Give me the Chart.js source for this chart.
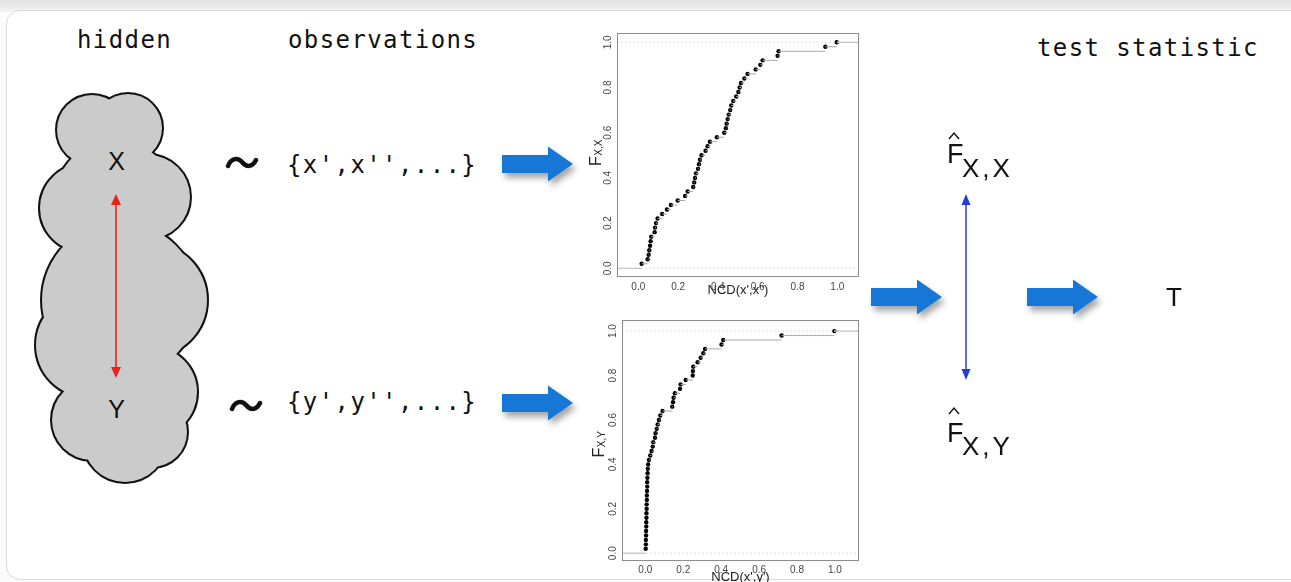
<!DOCTYPE html>
<html>
<head>
<meta charset="utf-8">
<script src="https://cdn.jsdelivr.net/npm/chart.js@4.4.1/dist/chart.umd.min.js"></script>
<style>
  html, body { margin: 0; padding: 0; }
  body { width: 1291px; height: 582px; overflow: hidden; background: #fbfbfb; position: relative; font-family: 'Liberation Sans', Arial, sans-serif; }
  #band { position: absolute; left: 0; top: 0; width: 1291px; height: 12px; background: linear-gradient(#e2e2e2, #f3f3f3); }
  #panel { position: absolute; left: 6px; top: 10px; width: 1310px; height: 568px; background: #fff; border: 1.5px solid #dadada; border-radius: 14px; }
  svg#dia { position: absolute; left: 0; top: 0; }
  canvas { position: absolute; }
  #c1 { left: 580px; top: 28px; }
  #c2 { left: 585px; top: 315px; }
  .mono { font-family: 'DejaVu Sans Mono', monospace; font-size: 24px; letter-spacing: 1.4px; fill: #111; }
  .sans { font-family: 'Liberation Sans', Arial, sans-serif; fill: #111; }
</style>
</head>
<body>
<div id="band"></div>
<div id="panel"></div>
<svg id="dia" width="1291" height="582" viewBox="0 0 1291 582">
  <defs>
    <filter id="sh" x="-30%" y="-40%" width="170%" height="200%">
      <feDropShadow dx="3" dy="5" stdDeviation="3" flood-color="#000" flood-opacity="0.35"/>
    </filter>
    <g id="cloudShape">
      <circle cx="92" cy="130" r="35"/>
      <circle cx="128" cy="128" r="34"/>
      <circle cx="148" cy="197" r="42"/>
      <circle cx="84" cy="208" r="44"/>
      <circle cx="150" cy="300" r="57"/>
      <circle cx="88" cy="345" r="52"/>
      <circle cx="152" cy="392" r="45"/>
      <circle cx="92" cy="420" r="40"/>
      <circle cx="125" cy="440" r="42"/>
      <circle cx="152" cy="432" r="35"/>
      <circle cx="120" cy="300" r="78"/>
      <circle cx="115" cy="200" r="60"/>
    </g>
    <g id="blueArrow">
      <polygon points="0,-9 46,-9 46,-17.5 71,0 46,17.5 46,9 0,9"/>
    </g>
  </defs>

  <!-- cloud -->
  <use href="#cloudShape" fill="#cbcbcb" stroke="#111" stroke-width="4"/>
  <use href="#cloudShape" fill="#cbcbcb"/>
  <text class="sans" x="116.5" y="170" font-size="25" text-anchor="middle">X</text>
  <text class="sans" x="116.5" y="418" font-size="25" text-anchor="middle">Y</text>
  <line x1="116" y1="203" x2="116" y2="369" stroke="#e8231a" stroke-width="1.6"/>
  <polygon points="116,194 111,205 121,205" fill="#e8231a"/>
  <polygon points="116,378 111,367 121,367" fill="#e8231a"/>

  <!-- headers -->
  <text class="mono" x="77" y="48">hidden</text>
  <text class="mono" x="288" y="48">observations</text>
  <text class="mono" x="1037" y="56">test statistic</text>

  <!-- tildes and observation sets -->
  <path d="M228,166 C231,158 238,157 242,162 C246,167 252,168 256,160" fill="none" stroke="#111" stroke-width="4.5" stroke-linecap="round"/>
  <path d="M232,409 C235,401 242,400 246,405 C250,410 256,411 260,403" fill="none" stroke="#111" stroke-width="4.5" stroke-linecap="round"/>
  <text class="mono" x="287" y="173">{x',x'',...}</text>
  <text class="mono" x="287" y="410">{y',y'',...}</text>

  <!-- blue block arrows -->
  <g fill="#1677d6" filter="url(#sh)">
    <use href="#blueArrow" transform="translate(502,164)"/>
    <use href="#blueArrow" transform="translate(502,403)"/>
    <use href="#blueArrow" transform="translate(871,297)"/>
    <use href="#blueArrow" transform="translate(1027,297)"/>
  </g>

  <!-- estimated distribution labels -->
  <polyline points="949,139 954,133 959,139" fill="none" stroke="#111" stroke-width="1.4"/>
  <text class="sans" x="947" y="163" font-size="27">F</text>
  <text class="sans" x="962" y="177" font-size="26" letter-spacing="3">X,X</text>
  <polyline points="949,414 954,408 959,414" fill="none" stroke="#111" stroke-width="1.4"/>
  <text class="sans" x="947" y="442" font-size="27">F</text>
  <text class="sans" x="962" y="455" font-size="26" letter-spacing="3">X,Y</text>

  <!-- blue double arrow -->
  <line x1="966" y1="203" x2="966" y2="371" stroke="#2040d8" stroke-width="1.5"/>
  <polygon points="966,194 961.5,205 970.5,205" fill="#2040d8"/>
  <polygon points="966,380 961.5,369 970.5,369" fill="#2040d8"/>

  <text class="sans" x="1166" y="306" font-size="26">T</text>
</svg>

<canvas id="c1" width="290" height="270"></canvas>
<canvas id="c2" width="285" height="270"></canvas>

<script>
// ---- data ----
const TICK_VALUES = [0.0, 0.2, 0.4, 0.6, 0.8, 1.0];
const TICK_LABELS = ['0.0', '0.2', '0.4', '0.6', '0.8', '1.0'];

// ECDF levels (fraction of observations)
const ECDF_LEVELS = [0.02,0.04,0.06,0.08,0.10,0.12,0.14,0.16,0.18,0.20,
                     0.22,0.24,0.26,0.28,0.30,0.32,0.34,0.36,0.38,0.40,
                     0.42,0.44,0.46,0.48,0.50,0.52,0.54,0.56,0.58,0.60,
                     0.62,0.64,0.66,0.68,0.70,0.72,0.74,0.76,0.78,0.80,
                     0.82,0.84,0.86,0.88,0.90,0.92,0.94,0.96,0.98,1.00];

// NCD(x',x'') sample values (upper plot)
const NCD_XX = [0.017,0.047,0.052,0.055,0.059,0.062,0.065,0.082,0.084,0.089,
                0.097,0.120,0.144,0.164,0.198,0.235,0.248,0.276,0.281,0.285,
                0.290,0.300,0.305,0.310,0.318,0.338,0.348,0.360,0.395,0.432,
                0.440,0.444,0.449,0.454,0.462,0.467,0.477,0.492,0.503,0.509,
                0.516,0.533,0.549,0.590,0.613,0.625,0.700,0.705,0.940,0.997];

// NCD(x',y') sample values (lower plot)
const NCD_XY = [0.002,0.003,0.003,0.004,0.004,0.005,0.005,0.006,0.006,0.007,
                0.007,0.008,0.008,0.009,0.010,0.010,0.011,0.012,0.013,0.015,
                0.019,0.026,0.033,0.039,0.042,0.051,0.054,0.060,0.065,0.072,
                0.079,0.091,0.142,0.146,0.149,0.156,0.183,0.186,0.213,0.250,
                0.251,0.253,0.276,0.292,0.306,0.315,0.402,0.411,0.719,0.997];

const SANS = "'Liberation Sans', Arial, sans-serif";

function makeEcdf(id, xs, fs, cfg) {
  const seg = [{x: cfg.xmin, y: 0}, {x: xs[0], y: 0}, {x: xs[0], y: null}];
  for (let i = 0; i < xs.length; i++) {
    const xEnd = i < xs.length - 1 ? xs[i + 1] : cfg.xmax;
    seg.push({x: xs[i], y: fs[i]}, {x: xEnd, y: fs[i]}, {x: xEnd, y: null});
  }
  const refs = [{x: cfg.xmin, y: 0}, {x: cfg.xmax, y: 0}, {x: cfg.xmax, y: null},
                {x: cfg.xmin, y: 1}, {x: cfg.xmax, y: 1}];
  const pts = xs.map((x, i) => ({x: x, y: fs[i]}));

  const decor = {
    id: 'decor' + id,
    afterDraw(chart) {
      const {ctx, chartArea: a, scales: {y}} = chart;
      ctx.save();
      ctx.strokeStyle = '#8c8c8c';
      ctx.lineWidth = 1;
      ctx.strokeRect(Math.round(a.left) + 0.5, Math.round(a.top) + 0.5, Math.round(a.width) - 1, Math.round(a.height) - 1);
      ctx.fillStyle = '#444';
      ctx.font = '10px ' + SANS;
      ctx.textAlign = 'center';
      ctx.textBaseline = 'middle';
      TICK_VALUES.forEach((v, i) => {
        const py = y.getPixelForValue(v);
        ctx.save();
        ctx.translate(a.left - cfg.yLabOff, py);
        ctx.rotate(-Math.PI / 2);
        ctx.fillText(TICK_LABELS[i], 0, 0);
        ctx.restore();
      });
      // rotated y title F_{X,.}
      ctx.save();
      ctx.translate(a.left - cfg.yTitleOff, (a.top + a.bottom) / 2 + cfg.yTitleShift);
      ctx.rotate(-Math.PI / 2);
      ctx.fillStyle = '#222';
      ctx.textAlign = 'left';
      ctx.textBaseline = 'alphabetic';
      ctx.font = '16px ' + SANS;
      const w1 = ctx.measureText('F').width;
      ctx.font = '10px ' + SANS;
      const w2 = ctx.measureText(cfg.sub).width;
      const x0 = -(w1 + w2) / 2;
      ctx.font = '16px ' + SANS;
      ctx.fillText('F', x0, 5);
      ctx.font = '10px ' + SANS;
      ctx.fillText(cfg.sub, x0 + w1 + 0.5, 5.5);
      ctx.restore();
      ctx.restore();
    }
  };

  return new Chart(document.getElementById(id), {
    type: 'scatter',
    data: {
      datasets: [
        { data: refs, showLine: true, borderColor: '#dedede', borderWidth: 1, borderDash: [2, 2], pointRadius: 0, spanGaps: false },
        { data: seg, showLine: true, borderColor: '#a8a8a8', borderWidth: 1, pointRadius: 0, spanGaps: false },
        { data: pts, showLine: false, pointRadius: 2.2, pointBackgroundColor: '#000', pointBorderColor: '#000', pointBorderWidth: 0 }
      ]
    },
    options: {
      responsive: false,
      animation: false,
      events: [],
      layout: { padding: { left: 0, right: 11, top: 5, bottom: 0 } },
      plugins: { legend: { display: false }, tooltip: { enabled: false } },
      scales: {
        x: {
          type: 'linear', min: cfg.xmin, max: cfg.xmax,
          afterBuildTicks: s => { s.ticks = TICK_VALUES.map(v => ({value: v})); },
          afterFit: s => { s.height = cfg.xAxisH; },
          grid: { display: false, drawTicks: false },
          border: { display: false },
          ticks: { autoSkip: false, maxRotation: 0, minRotation: 0, padding: cfg.xTickPad, color: '#444',
                   font: { size: 10, family: SANS },
                   callback: (v, i) => TICK_LABELS[i] },
          title: { display: true, text: cfg.xTitle, color: '#222', font: { size: 13, family: SANS }, padding: 0 }
        },
        y: {
          type: 'linear', min: cfg.ymin, max: cfg.ymax,
          afterBuildTicks: s => { s.ticks = TICK_VALUES.map(v => ({value: v})); },
          afterFit: s => { s.width = 37; },
          grid: { display: false, drawTicks: false },
          border: { display: false },
          ticks: { display: false }
        }
      }
    },
    plugins: [decor]
  });
}

makeEcdf('c1', NCD_XX, ECDF_LEVELS, {
  xmin: -0.107, xmax: 1.109, ymin: -0.0385, ymax: 1.041,
  xAxisH: 21, xTickPad: 4, xTitle: "NCD(x',x'')",
  yLabOff: 9, yTitleOff: 21, yTitleShift: -2, sub: 'X,X'
});
makeEcdf('c2', NCD_XY, ECDF_LEVELS, {
  xmin: -0.123, xmax: 1.127, ymin: -0.035, ymax: 1.05,
  xAxisH: 24, xTickPad: 3, xTitle: "NCD(x',y')",
  yLabOff: 8.5, yTitleOff: 23, yTitleShift: 4, sub: 'X,Y'
});
</script>
</body>
</html>
